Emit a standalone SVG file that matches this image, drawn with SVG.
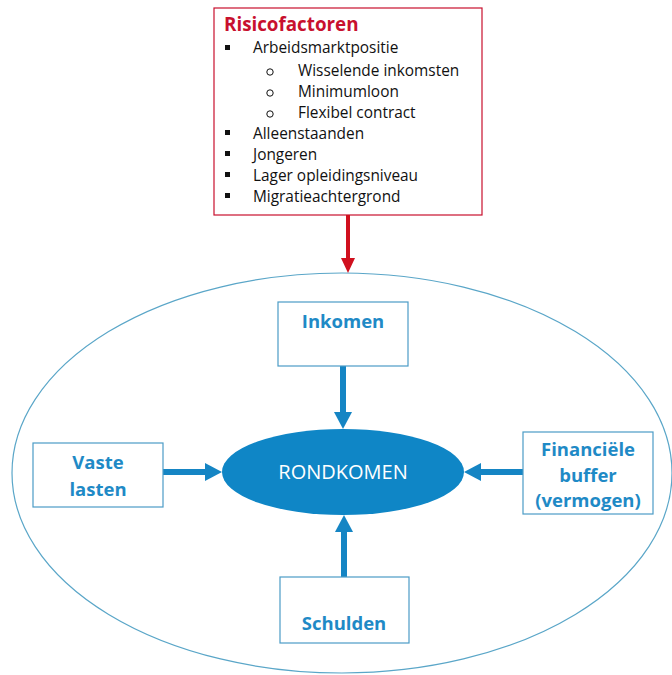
<svg xmlns="http://www.w3.org/2000/svg" width="672" height="675" viewBox="0 0 672 675">
<defs>
<style>
.box{fill:#fff;stroke:#4b9cc6;stroke-width:1.2}
.lbl{font-family:"Open Sans",sans-serif;font-weight:bold;font-size:18.5px;fill:#1f8ac6;text-anchor:middle}
.li{font-family:"Open Sans",sans-serif;font-size:15.4px;fill:#111}
.blue{stroke:#1585c4;stroke-width:6;fill:none}
.bhead{fill:#1585c4}
</style>
</defs>
<rect width="672" height="675" fill="#fff"/>
<ellipse id="outer" cx="342" cy="473" rx="330" ry="200" fill="none" stroke="#5aa6c8" stroke-width="1.2"/>
<g id="risicofactoren">
<rect x="214" y="8" width="268" height="207" fill="#fff" stroke="#c8102e" stroke-width="1.2"/>
<text x="224" y="31" font-family="Open Sans, sans-serif" font-weight="bold" font-size="18.8" fill="#c8102e">Risicofactoren</text>
<g fill="#111">
<rect x="225" y="45" width="5" height="5"/>
<rect x="225" y="130" width="5" height="5"/>
<rect x="225" y="151" width="5" height="5"/>
<rect x="225" y="172" width="5" height="5"/>
<rect x="225" y="193" width="5" height="5"/>
</g>
<g fill="none" stroke="#111" stroke-width="1">
<circle cx="270" cy="72" r="3.2"/>
<circle cx="270" cy="93" r="3.2"/>
<circle cx="270" cy="114" r="3.2"/>
</g>
<text class="li" x="253" y="53">Arbeidsmarktpositie</text>
<text class="li" x="298" y="76">Wisselende inkomsten</text>
<text class="li" x="298" y="97">Minimumloon</text>
<text class="li" x="298" y="118">Flexibel contract</text>
<text class="li" x="253" y="139">Alleenstaanden</text>
<text class="li" x="253" y="160">Jongeren</text>
<text class="li" x="253" y="181">Lager opleidingsniveau</text>
<text class="li" x="253" y="202">Migratieachtergrond</text>
</g>
<g id="connectors">
<line x1="348" y1="215" x2="348" y2="259" stroke="#d0101e" stroke-width="4"/>
<polygon points="341,258 355,258 348,273" fill="#d0101e"/>
<line class="blue" x1="343" y1="366" x2="343" y2="413"/>
<polygon class="bhead" points="334,412 352,412 343,429"/>
<line class="blue" x1="344" y1="577" x2="344" y2="531"/>
<polygon class="bhead" points="335,532 353,532 344,515"/>
<line class="blue" x1="163" y1="472" x2="206" y2="472"/>
<polygon class="bhead" points="205,463 205,481 222,472"/>
<line class="blue" x1="523" y1="472" x2="480" y2="472"/>
<polygon class="bhead" points="481,463 481,481 464,472"/>
</g>
<g id="rondkomen">
<ellipse cx="343" cy="472" rx="121" ry="43" fill="#0f86c6"/>
<text x="343" y="479" font-family="Open Sans, sans-serif" font-size="20" fill="#fff" text-anchor="middle">RONDKOMEN</text>
</g>
<g id="inkomen">
<rect class="box" x="278" y="302" width="130" height="64"/>
<text class="lbl" x="343" y="328">Inkomen</text>
</g>
<g id="vaste-lasten">
<rect class="box" x="33" y="443" width="130" height="64"/>
<text class="lbl" x="98" y="469">Vaste</text>
<text class="lbl" x="98" y="496">lasten</text>
</g>
<g id="financiele-buffer">
<rect class="box" x="523" y="432" width="130" height="82"/>
<text class="lbl" x="588" y="456">Financiële</text>
<text class="lbl" x="588" y="482">buffer</text>
<text class="lbl" x="588" y="507">(vermogen)</text>
</g>
<g id="schulden">
<rect class="box" x="280" y="577" width="129" height="66"/>
<text class="lbl" x="344" y="630">Schulden</text>
</g>
</svg>
